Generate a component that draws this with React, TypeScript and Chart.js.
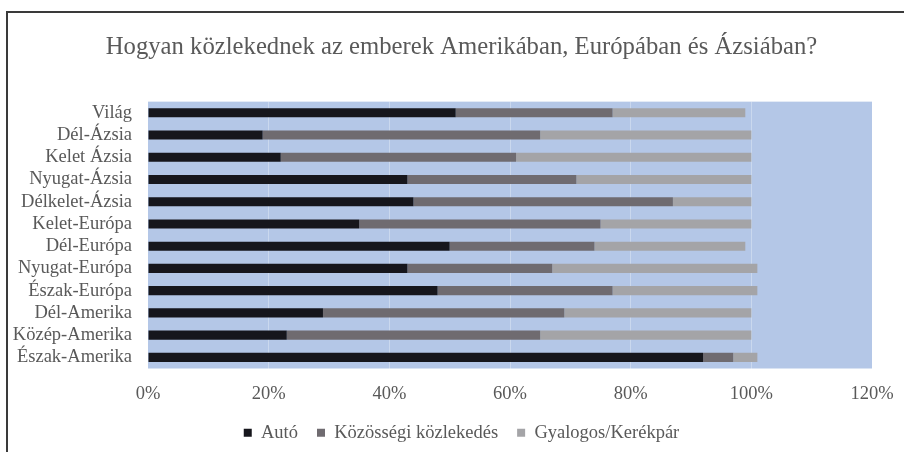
import React, { useEffect, useRef } from 'react';
import { Chart, registerables } from 'chart.js';

Chart.register(...registerables);

const categories = [
  'Világ', 'Dél-Ázsia', 'Kelet Ázsia', 'Nyugat-Ázsia', 'Délkelet-Ázsia', 'Kelet-Európa',
  'Dél-Európa', 'Nyugat-Európa', 'Észak-Európa', 'Dél-Amerika', 'Közép-Amerika', 'Észak-Amerika',
];
const autoValues = [51, 19, 22, 43, 44, 35, 50, 43, 48, 29, 23, 92];
const kozossegiValues = [26, 46, 39, 28, 43, 40, 24, 24, 29, 40, 42, 5];
const gyalogosValues = [22, 35, 39, 29, 13, 25, 25, 34, 24, 31, 35, 4];
const xTicks = [0, 20, 40, 60, 80, 100, 120];

const titleText = 'Hogyan közlekednek az emberek Amerikában, Európában és Ázsiában?';
const FONT = "'Liberation Serif', 'Times New Roman', serif";
const TEXT = '#595959';

const bgPlugin = {
  id: 'bgFrame',
  afterLayout(chart: any) {
    // let the category labels extend left of the narrowed axis box without being clipped
    const y = chart.scales.y;
    if (y) y.left = 9;
  },
  beforeDraw(chart: any) {
    const { ctx, chartArea, width, height } = chart;
    ctx.save();
    ctx.fillStyle = '#ffffff';
    ctx.fillRect(0, 0, width, height);
    ctx.fillStyle = '#b4c7e7';
    ctx.fillRect(chartArea.left, chartArea.top, chartArea.right - chartArea.left, chartArea.bottom - chartArea.top);
    ctx.strokeStyle = '#3a3a3a';
    ctx.lineWidth = 2;
    ctx.beginPath();
    ctx.moveTo(7, height + 4);
    ctx.lineTo(7, 12);
    ctx.lineTo(width + 4, 12);
    ctx.stroke();
    ctx.restore();
  },
};

export default function App() {
  const ref = useRef<HTMLCanvasElement | null>(null);
  useEffect(() => {
    if (!ref.current) return;
    const chart = new Chart(ref.current, {
      type: 'bar',
      data: {
        labels: categories,
        datasets: [
          { label: 'Autó', data: autoValues, backgroundColor: '#16161c' },
          { label: 'Közösségi közlekedés', data: kozossegiValues, backgroundColor: '#6f6b70' },
          { label: 'Gyalogos/Kerékpár', data: gyalogosValues, backgroundColor: '#a4a4a7' },
        ],
      },
      options: {
        indexAxis: 'y',
        animation: false,
        responsive: false,
        maintainAspectRatio: false,
        datasets: { bar: { categoryPercentage: 1, barPercentage: 0.41 } },
        layout: { padding: { left: 51, right: 32, top: 0, bottom: 0 } },
        scales: {
          x: {
            stacked: true,
            min: 0,
            max: 120,
            afterBuildTicks: (s: any) => { s.ticks = xTicks.map((v) => ({ value: v })); },
            afterFit: (s: any) => { s.height = 36; s.paddingLeft = 0; s.paddingRight = 0; },
            border: { display: false },
            grid: {
              drawTicks: false,
              color: (c: any) => (c.tick && c.tick.value > 0 && c.tick.value < 120 ? 'rgba(255,255,255,0.3)' : 'rgba(0,0,0,0)'),
              lineWidth: 1,
            },
            ticks: {
              padding: 15,
              color: TEXT,
              font: { family: FONT, size: 18.5 },
              callback: (v: any) => v + '%',
            },
          },
          y: {
            stacked: true,
            afterFit: (s: any) => { s.width = 97; },
            border: { display: false },
            grid: { display: false, drawTicks: false },
            ticks: { autoSkip: false, padding: 16, color: TEXT, font: { family: FONT, size: 18.5 } },
          },
        },
        plugins: {
          title: {
            display: true,
            text: titleText,
            color: TEXT,
            font: { family: FONT, size: 24.7, weight: 'normal' },
            padding: { top: 33, bottom: 39 },
          },
          legend: {
            position: 'bottom',
            labels: {
              color: TEXT,
              font: { family: FONT, size: 18.5 },
              boxWidth: 8,
              boxHeight: 8,
              padding: 19,
            },
          },
          tooltip: { enabled: false },
        },
      },
      plugins: [bgPlugin],
    } as any);
    return () => chart.destroy();
  }, []);
  return (
    <div style={{ position: 'fixed', left: 0, top: 0, width: 904, height: 452, background: '#fff' }}>
      <canvas ref={ref} width={904} height={452} style={{ display: 'block', width: 904, height: 452 }} />
    </div>
  );
}
